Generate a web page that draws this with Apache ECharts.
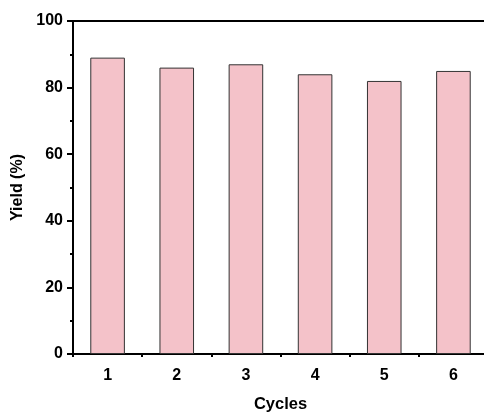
<!DOCTYPE html>
<html><head><meta charset="utf-8">
<script src="https://cdn.jsdelivr.net/npm/echarts@6/dist/echarts.min.js"></script>
<style>html,body{margin:0;padding:0;background:#fff}#c{width:484px;height:412px}</style>
</head><body><div id="c"></div>
<script>
const categories = ['1','2','3','4','5','6'];
const yieldValues = [89, 86, 87, 84, 82, 85];
const yTicks = [0, 20, 40, 60, 80, 100];

const chart = echarts.init(document.getElementById('c'), null, {renderer:'canvas'});
const font = {fontFamily:'Liberation Sans, Arial, sans-serif', fontWeight:'bold', color:'#000'};
chart.setOption({
  animation:false,
  grid:{left:73, right:-4, top:21, bottom:58, containLabel:false, outerBoundsMode:'none'},
  xAxis:[{
    type:'category', data:categories, position:'bottom',
    name:'Cycles', nameLocation:'middle', nameGap:42,
    nameTextStyle:Object.assign({fontSize:16.5}, font),
    axisLine:{lineStyle:{color:'#000', width:2}},
    axisTick:{alignWithLabel:true, length:6, lineStyle:{color:'#000', width:2}},
    axisLabel:Object.assign({fontSize:16, margin:14}, font)
  },{
    type:'category', data:categories, position:'bottom', gridIndex:0,
    axisLine:{show:false},
    axisTick:{show:true, length:3, lineStyle:{color:'#000', width:2}},
    axisLabel:{show:false}
  },{
    type:'category', data:categories, position:'top',
    axisLine:{lineStyle:{color:'#000', width:2}},
    axisTick:{show:false}, axisLabel:{show:false}
  }],
  yAxis:{
    type:'value', min:yTicks[0], max:yTicks[yTicks.length-1], interval:20,
    name:'Yield (%)', nameLocation:'middle', nameGap:42,
    nameTextStyle:Object.assign({fontSize:16}, font),
    axisLine:{show:true, lineStyle:{color:'#000', width:2}},
    axisTick:{show:true, length:6, lineStyle:{color:'#000', width:2}},
    minorTick:{show:true, splitNumber:2, length:3, lineStyle:{color:'#000', width:2}},
    splitLine:{show:false},
    axisLabel:Object.assign({fontSize:16, margin:10}, font)
  },
  series:[{
    type:'bar', data:yieldValues, xAxisIndex:0, barWidth:'50%',
    itemStyle:{color:'#F4C2C9', borderColor:'#333', borderWidth:1}
  }]
});
</script></body></html>
